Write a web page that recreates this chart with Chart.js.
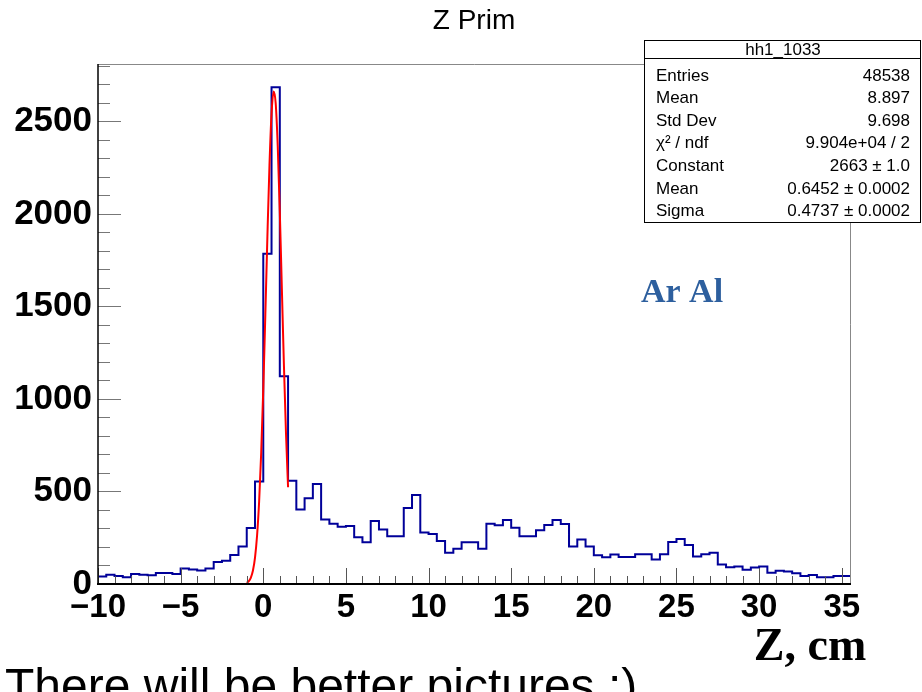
<!DOCTYPE html>
<html lang="en">
<head>
  <meta charset="UTF-8" />
  <title>Z Prim</title>
  <style>
    html, body { margin: 0; padding: 0; background: #fff; overflow: hidden; }
    #wrap { position: relative; width: 922px; height: 692px; }
  </style>
</head>
<body>
  <div id="wrap"><canvas id="zChart" width="922" height="692"></canvas></div>

  <script src="https://cdn.jsdelivr.net/npm/chart.js"></script>
  <script>
    // histogram: 0.5 cm bins from -10 to 35.5
    const binStart = -10;
    const binWidth = 0.5;
    const counts = [
      41, 50, 43, 37, 54, 50, 47, 60, 60, 54,
      84, 78, 73, 84, 119, 125, 157, 203, 302, 554,
      1785, 2685, 1123, 558, 403, 464, 541, 349, 326, 310,
      313, 252, 225, 341, 294, 258, 258, 411, 481, 278,
      270, 233, 169, 191, 225, 225, 191, 326, 317, 346,
      304, 258, 258, 290, 319, 346, 324, 202, 240, 202,
      155, 144, 159, 146, 146, 161, 161, 133, 161, 227,
      243, 211, 148, 161, 169, 106, 90, 94, 77, 89,
      94, 61, 72, 67, 58, 43, 49, 36, 36, 43,
      43
    ];

    // gaussian fit curve
    const fitZ = [-1, -0.875, -0.75, -0.625, -0.5, -0.375, -0.25, -0.125, 0, 0.125, 0.25,
                  0.375, 0.5, 0.625, 0.75, 0.875, 1, 1.125, 1.25, 1.375, 1.5];
    const fitCounts = [6, 15, 35, 73, 143, 262, 447, 710, 1053, 1457, 1880,
                       2263, 2541, 2661, 2599, 2367, 2012, 1594, 1179, 813, 523];

    const xTicks = [-10, -5, 0, 5, 10, 15, 20, 25, 30, 35];
    const yTicks = [0, 500, 1000, 1500, 2000, 2500];

    // stats box
    const statsTitle = 'hh1_1033';
    const statsNames = ['Entries', 'Mean', 'Std Dev', 'χ² / ndf', 'Constant', 'Mean', 'Sigma'];
    const statsValues = ['48538', '8.897', '9.698', '9.904e+04 / 2', '2663 ± 1.0', '0.6452 ± 0.0002', '0.4737 ± 0.0002'];

    const histPoints = counts.map((c, i) => ({ x: binStart + i * binWidth, y: c }));
    histPoints.push({ x: binStart + counts.length * binWidth, y: counts[counts.length - 1] });

    const SANS = "'Liberation Sans', Arial, Helvetica, sans-serif";
    const SERIF = "'Liberation Serif', 'Times New Roman', serif";

    // ROOT style frame: inward ticks, black left/bottom, grey top/right
    const rootFrame = {
      id: 'rootFrame',
      afterDatasetsDraw(chart) {
        const { ctx, chartArea: a, scales: { x, y } } = chart;
        ctx.save();
        ctx.strokeStyle = '#777';
        ctx.lineWidth = 1;
        for (let v = 0; v <= y.max; v += 100) {
          const py = Math.round(y.getPixelForValue(v)) + 0.5;
          const len = v % 500 === 0 ? 23 : 12;
          ctx.beginPath(); ctx.moveTo(a.left, py); ctx.lineTo(a.left + len, py); ctx.stroke();
        }
        ctx.strokeStyle = '#555';
        for (let v = -10; v <= x.max; v += 1) {
          const px = Math.round(x.getPixelForValue(v)) + 0.5;
          const len = v % 5 === 0 ? 16 : 8;
          ctx.beginPath(); ctx.moveTo(px, a.bottom); ctx.lineTo(px, a.bottom - len); ctx.stroke();
        }
        ctx.strokeStyle = '#888';
        ctx.beginPath();
        ctx.moveTo(a.left, a.top + 0.5); ctx.lineTo(a.right + 0.5, a.top + 0.5); ctx.lineTo(a.right + 0.5, a.bottom);
        ctx.stroke();
        ctx.strokeStyle = '#000';
        ctx.lineWidth = 1.5;
        ctx.beginPath(); ctx.moveTo(a.left, a.top); ctx.lineTo(a.left, a.bottom + 1); ctx.stroke();
        ctx.lineWidth = 2;
        ctx.beginPath(); ctx.moveTo(a.left - 1, a.bottom); ctx.lineTo(a.right + 1, a.bottom); ctx.stroke();
        ctx.restore();
      },
      afterDraw(chart) {
        const ctx = chart.ctx;
        ctx.save();
        ctx.fillStyle = '#000';
        ctx.textBaseline = 'middle';
        ctx.textAlign = 'center';
        ctx.font = '28px ' + SANS;
        ctx.fillText('Z Prim', 474, 21);

        // stats box
        const bx = 644.5, by = 40.5, bw = 276, bh = 182;
        ctx.fillStyle = '#fff';
        ctx.fillRect(bx, by, bw, bh);
        ctx.strokeStyle = '#000';
        ctx.lineWidth = 1;
        ctx.strokeRect(bx, by, bw, bh);
        ctx.beginPath(); ctx.moveTo(bx, 58.5); ctx.lineTo(bx + bw, 58.5); ctx.stroke();
        ctx.fillStyle = '#000';
        ctx.font = '17px ' + SANS;
        ctx.fillText(statsTitle, 783, 50);
        statsNames.forEach((n, i) => {
          const ry = 76 + i * 22.6;
          ctx.textAlign = 'left';
          ctx.fillText(n, 656, ry);
          ctx.textAlign = 'right';
          ctx.fillText(statsValues[i], 910, ry);
        });

        ctx.textBaseline = 'alphabetic';
        ctx.textAlign = 'center';
        ctx.fillStyle = '#2d5f9e';
        ctx.font = 'bold 34px ' + SERIF;
        ctx.fillText('Ar Al', 682, 302);

        ctx.fillStyle = '#000';
        ctx.font = 'bold 46px ' + SERIF;
        ctx.fillText('Z, cm', 810, 660);

        ctx.textAlign = 'left';
        ctx.font = '48px ' + SANS;
        ctx.fillText('There will be better pictures :)', 5, 702);
        ctx.restore();
      }
    };

    new Chart(document.getElementById('zChart'), {
      type: 'line',
      data: {
        datasets: [
          {
            label: 'fit',
            data: fitZ.map((z, i) => ({ x: z, y: fitCounts[i] })),
            borderColor: '#ff0000',
            borderWidth: 2,
            pointRadius: 0,
            tension: 0.4,
            cubicInterpolationMode: 'monotone',
            order: 0
          },
          {
            label: 'hh1_1033',
            data: histPoints,
            borderColor: '#000099',
            borderWidth: 2,
            pointRadius: 0,
            stepped: true,
            order: 1
          }
        ]
      },
      options: {
        responsive: false,
        animation: false,
        layout: { padding: { left: 0, right: 72, top: 64, bottom: 0 } },
        plugins: {
          legend: { display: false },
          title: { display: false },
          tooltip: { enabled: false }
        },
        scales: {
          x: {
            type: 'linear',
            min: -10,
            max: 35.5,
            grid: { display: false, drawTicks: false },
            border: { display: false },
            afterBuildTicks: s => { s.ticks = xTicks.map(v => ({ value: v })); },
            afterFit: s => { s.height = 108; },
            ticks: {
              color: '#000',
              padding: 4,
              maxRotation: 0,
              autoSkip: false,
              font: { family: SANS, size: 33, weight: 'bold' },
              callback: v => String(v).replace('-', '\u2212')
            }
          },
          y: {
            min: 0,
            max: 2810,
            grid: { display: false, drawTicks: false },
            border: { display: false },
            afterBuildTicks: s => { s.ticks = yTicks.map(v => ({ value: v })); },
            afterFit: s => { s.width = 98; },
            ticks: {
              color: '#000',
              padding: 6,
              font: { family: SANS, size: 35, weight: 'bold' },
              callback: v => String(v)
            }
          }
        }
      },
      plugins: [rootFrame]
    });
  </script>
</body>
</html>
